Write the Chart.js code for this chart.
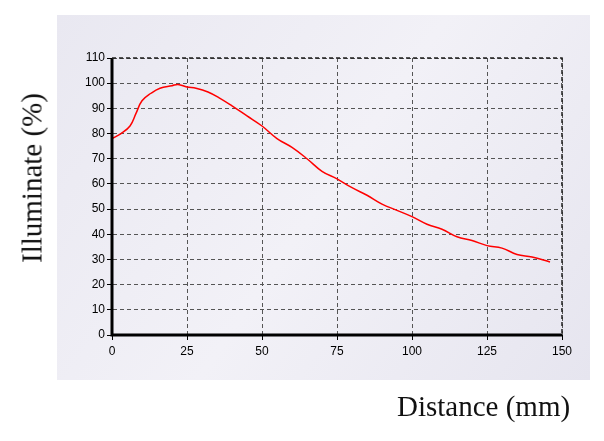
<!DOCTYPE html>
<html><head><meta charset="utf-8">
<script src="https://cdn.jsdelivr.net/npm/chart.js@4/dist/chart.umd.min.js"></script>
<style>
html,body{margin:0;padding:0;background:#fff;}
#wrap{position:relative;width:604px;height:441px;}
.t{position:absolute;font-family:"Liberation Serif","DejaVu Serif",serif;font-size:29px;color:#111;white-space:nowrap;}
</style></head><body>
<div id="wrap">
<canvas id="c" width="604" height="441"></canvas>
<div class="t" style="left:397px;top:390px;">Distance (mm)</div>
<div class="t" style="left:32px;top:178px;transform:translate(-50%,-50%) rotate(-90deg);">Illuminate (%)</div>
</div>
<script>
const distances=[0,3,6,8,10,13,16,20,22,25,28,32,36,40,45,50,55,60,65,70,75,80,85,90,95,100,105,110,115,120,125,130,135,140,146];
const illuminate=[78,80,83,88,93,96,98,99,99.5,98.5,98,96.5,94,91,87,83,78,74.5,70,65,62,58.5,55.5,52,49.5,47,44,42,39,37.5,35.5,34.5,32,31,29];
const xTicks=[0,25,50,75,100,125,150];
const yTicks=[0,10,20,30,40,50,60,70,80,90,100,110];
const panel={id:'panel',beforeDraw(ch){const c=ch.ctx;c.save();
 const g=c.createLinearGradient(57,15,590,380);g.addColorStop(0,'#e9e8f1');g.addColorStop(0.5,'#f2f1f7');g.addColorStop(1,'#e6e5ef');
 c.fillStyle=g;c.fillRect(57,15,533,365);c.restore();},
 afterDraw(ch){const c=ch.ctx,a=ch.chartArea;c.save();c.setLineDash([]);c.strokeStyle='#000';c.lineWidth=3;
 c.beginPath();c.moveTo(a.left,a.top);c.lineTo(a.left,a.bottom);c.lineTo(a.right,a.bottom);c.stroke();
 c.lineWidth=1.5;c.setLineDash([4,3]);c.strokeStyle='#222';c.beginPath();c.moveTo(a.left,a.top);c.lineTo(a.right,a.top);c.lineTo(a.right,a.bottom);c.stroke();c.restore();}};
new Chart(document.getElementById('c'),{
 type:'line',
 data:{datasets:[{data:distances.map((d,i)=>({x:d,y:illuminate[i]})),borderColor:'#ff0000',borderWidth:1.5,pointRadius:0,tension:0.4,fill:false}]},
 options:{responsive:false,animation:false,
  layout:{padding:{left:0,right:42,top:58,bottom:0}},
  plugins:{legend:{display:false},tooltip:{enabled:false}},
  scales:{
   x:{type:'linear',min:0,max:150,afterBuildTicks(s){s.ticks=xTicks.map(v=>({value:v}));},
    afterFit(s){s.height=106;},
    grid:{color:'#555',tickColor:'#000',tickLength:5},
    border:{color:'#000',width:1,dash:[4,3]},
    ticks:{color:'#000',font:{family:'Liberation Sans, Arial',size:12},padding:4,maxRotation:0}},
   y:{min:0,max:110,afterBuildTicks(s){s.ticks=yTicks.map(v=>({value:v}));},
    afterFit(s){s.width=112;},
    grid:{color:'#555',tickColor:'#000',tickLength:5},
    border:{color:'#000',width:1,dash:[4,3]},
    ticks:{color:'#000',font:{family:'Liberation Sans, Arial',size:12},padding:2}}
  }},
 plugins:[panel]
});
</script></body></html>
